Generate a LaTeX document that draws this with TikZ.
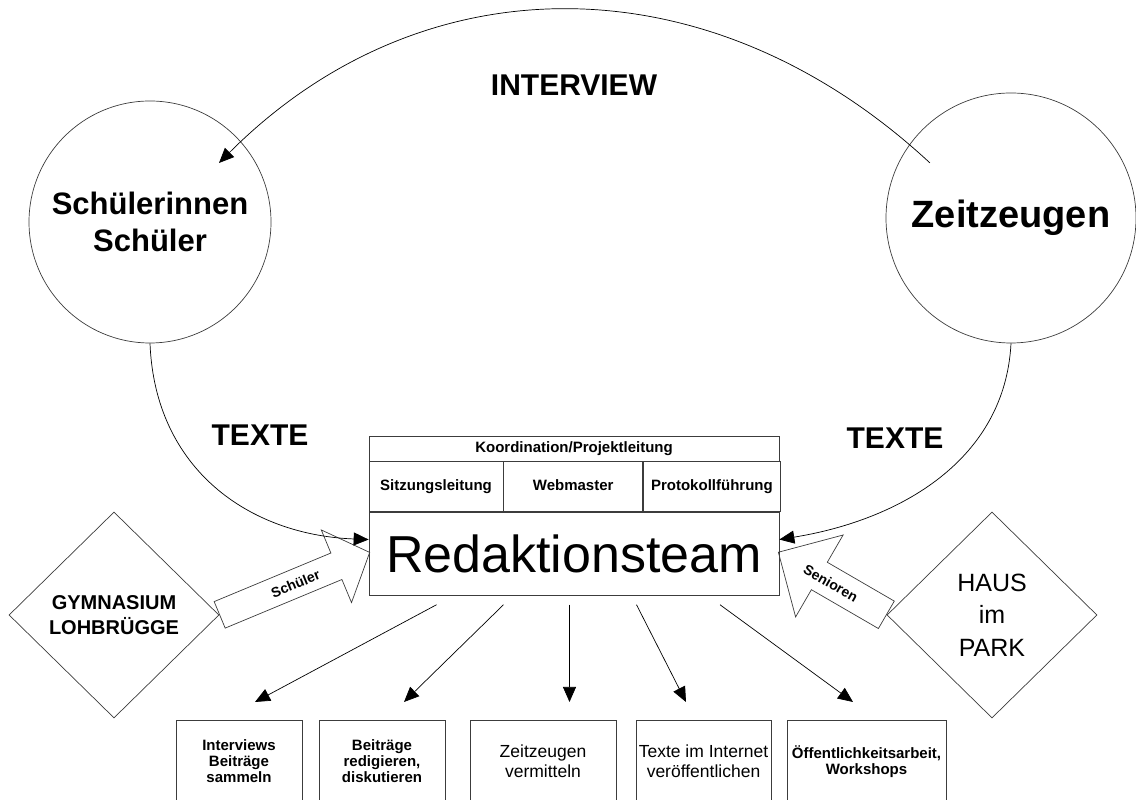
\documentclass[tikz,border=0pt]{standalone}
\usepackage{fontspec}
\setmainfont{Liberation Sans}
\usetikzlibrary{shapes,arrows,arrows.meta,positioning,calc}
\definecolor{linegray}{RGB}{60,60,60}

\begin{document}
\begin{tikzpicture}[x=1pt, y=1pt,
    circ/.style={circle, draw=linegray, line width=0.7pt, inner sep=0pt, align=center},
    cell/.style={draw=linegray, line width=0.7pt, inner sep=1pt, align=center, font=\fontsize{15}{16}\selectfont\bfseries},
    role/.style={cell, text height=11pt, text depth=3pt},
    task/.style={cell, anchor=north, minimum height=82pt},
    org/.style={diamond, draw=linegray, line width=0.7pt, inner sep=0pt, minimum width=210pt, minimum height=206pt, align=center},
    flow/.style={single arrow, draw=linegray, line width=0.7pt, inner xsep=0pt, anchor=tail},
    flowlabel/.style={sloped, inner sep=0pt, font=\fontsize{14}{16}\selectfont\bfseries},
    arr/.style={-{Triangle[length=15pt,width=13pt]}, line width=0.7pt},
    bigtext/.style={font=\fontsize{30}{36}\selectfont\bfseries}]

    \useasboundingbox (0,0) rectangle (1136,800);
    \clip (0,0) rectangle (1136,800);

    % Circles
    \node[circ, minimum size=242pt, font=\fontsize{31}{37}\selectfont\bfseries] (schueler) at (150,578) {Schülerinnen\\Schüler};
    \node[circ, minimum size=250pt, font=\fontsize{38}{44}\selectfont\bfseries] (zeit) at (1011,582) {Zeitzeugen};

    % Labels
    \node[bigtext] (interview) at (574,715) {INTERVIEW};
    \node[bigtext] (texteL) at (260,365) {TEXTE};
    \node[bigtext] (texteR) at (895,362) {TEXTE};

    % Team box
    \node[role, minimum width=410pt, minimum height=25pt] (koord) at (574,351.5) {Koordination/Projektleitung};
    \node[role, minimum width=134pt, minimum height=50pt, anchor=north west] (sitz) at (koord.south west) {Sitzungsleitung};
    \node[role, minimum width=139pt, minimum height=50pt, anchor=north west] (web) at (sitz.north east) {Webmaster};
    \node[role, minimum width=137pt, minimum height=50pt, anchor=north west] (proto) at (web.north east) {Protokollführung};
    \node[cell, minimum width=410pt, minimum height=83pt, anchor=north west, font=\fontsize{52}{60}\selectfont] (team) at (sitz.south west) {Redaktionsteam};

    % Partner diamonds
    \node[org, font=\fontsize{20}{25}\selectfont\bfseries] (gym) at (114,185) {GYMNASIUM\\LOHBRÜGGE};
    \node[org, font=\fontsize{25}{32.5}\selectfont] (park) at (992,185) {HAUS\\im\\PARK};

    % Block arrows
    \node[flow, rotate=22.6, minimum height=162.5pt, inner ysep=14pt, single arrow head extend=25pt, single arrow tip angle=95] (sflow) at (gym.east) {};
    \node[flow, rotate=149.9, minimum height=124.8pt, inner ysep=15.5pt, single arrow head extend=31.5pt, single arrow tip angle=90] (pflow) at (park.west) {};
    \path (gym.east) -- (team.west) node[flowlabel, pos=0.51] (slabel) {Schüler};
    \path (park.west) -- (team.east) node[flowlabel, pos=0.52] (plabel) {Senioren};

    % Interview and texts
    \draw[arr] ($(zeit.center)+(-81,55)$) .. controls (710,841) and (423,841) .. ($(schueler.center)+(69,59)$);
    \draw[arr] (schueler.south) .. controls (155,330) and (250,265) .. (team.176);
    \draw[arr] (zeit.south) .. controls (1005,340) and (900,280) .. (team.4);

    % Tasks
    \node[task, minimum width=126pt] (t1) at (239,80) {Interviews\\Beiträge\\sammeln};
    \node[task, minimum width=126pt] (t2) at (382,80) {Beiträge\\redigieren,\\diskutieren};
    \node[task, minimum width=146pt, font=\fontsize{17.5}{19.5}\selectfont] (t3) at (543,80) {Zeitzeugen\\vermitteln};
    \node[task, minimum width=135pt, font=\fontsize{17.5}{20}\selectfont] (t4) at (703.5,80) {Texte im Internet\\veröffentlichen};
    \node[task, minimum width=159pt] (t5) at (866.5,80) {Öffentlichkeitsarbeit,\\Workshops};

    \foreach \t/\dx/\ex in {t1/-137.5/16, t2/-70.5/22, t3/-4.5/26.5, t4/62.5/-17.5, t5/146/-13.5} {
        \draw[arr] ($(team.south)+(\dx,-9)$) -- ($(\t.north)+(\ex,18)$);
    }

\end{tikzpicture}
\end{document}
